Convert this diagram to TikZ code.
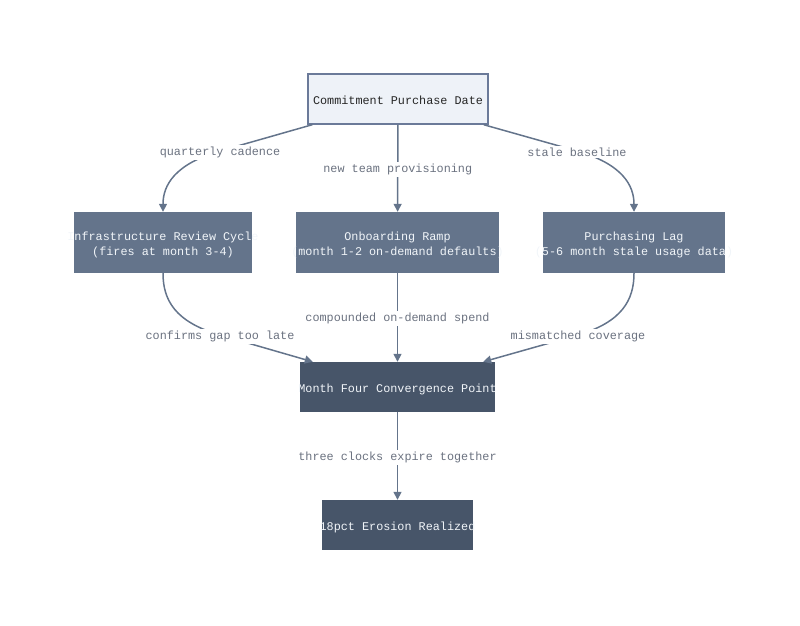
\documentclass[tikz,border=0pt]{standalone}
\usepackage{fontspec}
\setmonofont{Liberation Mono}
\usetikzlibrary{arrows.meta}

\definecolor{lineclr}{HTML}{64748B}
\definecolor{startfill}{HTML}{EEF2F8}
\definecolor{startdraw}{HTML}{6B7A99}
\definecolor{clockfill}{HTML}{64748B}
\definecolor{endfill}{HTML}{475569}
\definecolor{boxtxt}{HTML}{F1F5F9}
\definecolor{lbltxt}{HTML}{6B7280}

% text that may run past the box edge, centred
\newcommand{\boxtext}[1]{\makebox[0pt]{\raisebox{-5.5pt}[0pt][0pt]{\begin{tabular}{@{}c@{}}#1\end{tabular}}}}

\begin{document}
\begin{tikzpicture}[x=1pt, y=-1pt, font=\ttfamily\fontsize{11.8}{15}\selectfont,
    >={Triangle[length=8pt,width=8pt]},
    startbox/.style={draw=startdraw, line width=1.4pt, fill=startfill, text=black!85, minimum height=50pt, inner sep=0pt},
    clockbox/.style={fill=clockfill, text=boxtxt, minimum height=61pt, inner sep=0pt},
    endbox/.style={fill=endfill, text=boxtxt, minimum height=50pt, inner sep=0pt},
    flow/.style={draw=lineclr, line width=1.5pt, ->},
    lbl/.style={fill=white, text=lbltxt, inner sep=2pt, yshift=-1pt}]
    \useasboundingbox (0,0) rectangle (800,625);
    \node[startbox, minimum width=180pt] (date) at (398,99) {\boxtext{Commitment Purchase Date}};
    \node[clockbox, minimum width=178pt] (review) at (163,242.5) {\boxtext{Infrastructure Review Cycle\\(fires at month 3-4)}};
    \node[clockbox, minimum width=203pt] (ramp) at (397.5,242.5) {\boxtext{Onboarding Ramp\\(month 1-2 on-demand defaults)}};
    \node[clockbox, minimum width=182pt] (lag) at (634,242.5) {\boxtext{Purchasing Lag\\(5-6 month stale usage data)}};
    \node[endbox, minimum width=195pt] (point) at (397.5,387) {\boxtext{Month Four Convergence Point}};
    \node[endbox, minimum width=151pt] (erosion) at (397.5,525) {\boxtext{18pct Erosion Realized}};

    \draw[flow] ([xshift=5pt]date.south west) -- (220,151) node[lbl] {quarterly cadence}
        .. controls (175,164) and (163,185) .. (review.north);
    \draw[flow] (date) -- node[lbl] {new team provisioning} (ramp);
    \draw[flow] ([xshift=-5pt]date.south east) -- (577,151) node[lbl] {stale baseline}
        .. controls (622,164) and (634,185) .. (lag.north);
    \draw[flow] (review.south) .. controls (163,300) and (175,322) .. (220,335) node[lbl] {confirms gap too late}
        -- ([xshift=13pt]point.north west);
    \draw[flow] (ramp) -- node[lbl] {compounded on-demand spend} (point);
    \draw[flow] (lag.south) .. controls (634,300) and (622,322) .. (578,335) node[lbl] {mismatched coverage}
        -- ([xshift=-12pt]point.north east);
    \draw[flow] (point) -- node[lbl] {three clocks expire together} (erosion);
\end{tikzpicture}
\end{document}
